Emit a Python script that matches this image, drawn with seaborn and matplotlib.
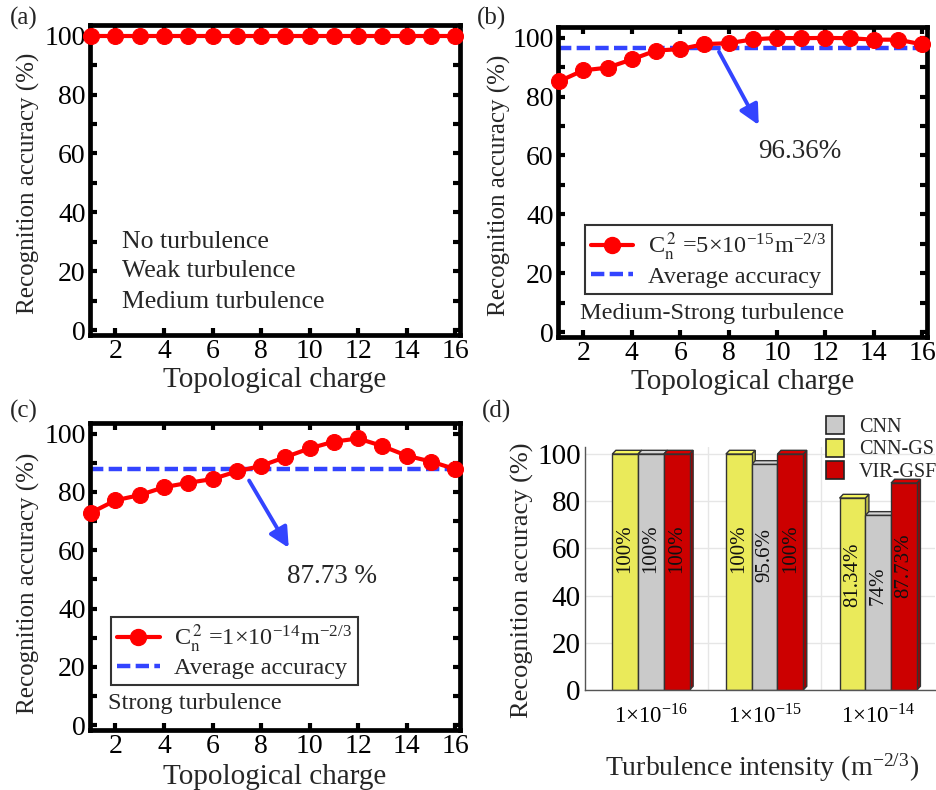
import numpy as np
import pandas as pd
import matplotlib
matplotlib.use("Agg")
import matplotlib.pyplot as plt
import seaborn as sns
from matplotlib.lines import Line2D
from matplotlib.patches import Patch, Polygon
from matplotlib.ticker import MultipleLocator

# ---------------- data ----------------
charges = list(range(1, 17))
acc_a = [100] * 16
acc_b = [85.2, 88.9, 89.8, 92.6, 95.6, 96.1, 97.8, 98.1, 99.4, 99.9, 99.8, 99.9, 99.8, 99.3, 99.3, 97.7]
avg_b = 96.36
acc_c = [72.9, 77.1, 78.9, 81.6, 83.1, 84.4, 87.0, 88.9, 91.9, 94.9, 97.2, 98.3, 95.7, 92.4, 90.4, 87.8]
avg_c = 87.73

intensities = [r'1×10$^{\mathregular{-16}}$', r'1×10$^{\mathregular{-15}}$', r'1×10$^{\mathregular{-14}}$']
methods = ['CNN-GS', 'CNN', 'VIR-GSF']
cnn_gs = [100, 100, 81.34]
cnn = [100, 95.6, 74]
vir_gsf = [100, 100, 87.73]
bar_labels = {'CNN-GS': ['100%', '100%', '81.34%'],
              'CNN': ['100%', '95.6%', '74%'],
              'VIR-GSF': ['100%', '100%', '87.73%']}

# ---------------- style ----------------
sns.set_theme(style="ticks")
plt.rcParams['font.family'] = ['Liberation Serif', 'DejaVu Serif']
plt.rcParams['mathtext.fontset'] = 'stix'
plt.rcParams['axes.unicode_minus'] = False

W, H = 937, 790
fig = plt.figure(figsize=(W / 100, H / 100), dpi=100)


def box(l, t, r, b):
    return [l / W, 1 - b / H, (r - l) / W, (b - t) / H]


RED = '#ff0000'
BLUE = '#3344ff'
TICK_FS = 20
LAB_FS = 21


def style_line_axes(ax):
    ax.set_xlim(0.95, 16.2)
    ax.set_ylim(-1.6, 103.6)
    ax.set_xticks(range(2, 17, 2))
    ax.set_yticks(range(0, 101, 20))
    ax.yaxis.set_minor_locator(MultipleLocator(10))
    ax.tick_params(which='both', direction='in', top=True, right=True,
                   labelsize=TICK_FS, width=3, color='black', labelcolor='black', pad=3)
    ax.tick_params(which='major', length=5)
    ax.tick_params(which='minor', length=5)
    for s in ax.spines.values():
        s.set_linewidth(3.4)
        s.set_color('black')
    ax.set_xlabel('')
    ax.set_ylabel('')
    ax.grid(False)


def line_panel(ax, y):
    df = pd.DataFrame({'charge': charges, 'acc': y})
    sns.lineplot(data=df, x='charge', y='acc', ax=ax, color=RED, lw=3.0,
                 marker='o', markersize=11.5, markeredgecolor=RED, clip_on=False,
                 zorder=3, legend=False)


ARROW = dict(arrowstyle='-|>,head_length=1.0,head_width=0.5', color=BLUE, lw=2.8)
LEG_KW = dict(loc='lower left', fontsize=17.5, frameon=True, fancybox=False, edgecolor='black',
              handlelength=1.75, borderpad=0.25, labelspacing=0.1, handletextpad=0.6,
              borderaxespad=0)

h1 = Line2D([], [], color=RED, lw=3, marker='o', markersize=11.5)
h2 = Line2D([], [], color=BLUE, lw=3.2, dashes=(3.0, 1.2))

# ---- (a) ----
axa = fig.add_axes(box(90, 25, 460, 335))
line_panel(axa, acc_a)
style_line_axes(axa)
for txt, yy in [('No turbulence', 0.30), ('Weak turbulence', 0.205), ('Medium turbulence', 0.108)]:
    axa.text(0.086, yy, txt, transform=axa.transAxes, fontsize=18.5, va='center')

# ---- (b) ----
axb = fig.add_axes(box(558, 27, 927, 337))
line_panel(axb, acc_b)
axb.axhline(avg_b, color=BLUE, lw=3.2, dashes=(3.0, 1.2), zorder=2)
style_line_axes(axb)
axb.annotate('', xy=(9.3, 69.5), xytext=(7.55, 96.0), arrowprops=ARROW)
axb.text(10.95, 61.5, '96.36%', fontsize=19.5, ha='center', va='center')
axb.text(0.059, 0.075, 'Medium-Strong turbulence', transform=axb.transAxes, fontsize=17.5, va='center')
legb = axb.legend([h1, h2], [r'C$_{\mathrm{n}}^{\,2}$ =5×10$^{\mathregular{-15}}$m$^{\mathregular{-2/3}}$', 'Average accuracy'],
                  bbox_to_anchor=(0.072, 0.14), **LEG_KW)
legb.get_frame().set_linewidth(1.5)

# ---- (c) ----
axc = fig.add_axes(box(90, 423, 460, 730))
line_panel(axc, acc_c)
axc.axhline(avg_c, color=BLUE, lw=3.2, dashes=(3.0, 1.2), zorder=2)
style_line_axes(axc)
axc.annotate('', xy=(9.2, 60.0), xytext=(7.45, 84.7), arrowprops=ARROW)
axc.text(10.93, 51.0, '87.73 %', fontsize=19.5, ha='center', va='center')
axc.text(0.05, 0.085, 'Strong turbulence', transform=axc.transAxes, fontsize=17.5, va='center')
legc = axc.legend([h1, h2], [r'C$_{\mathrm{n}}^{\,2}$ =1×10$^{\mathregular{-14}}$m$^{\mathregular{-2/3}}$', 'Average accuracy'],
                  bbox_to_anchor=(0.057, 0.145), **LEG_KW)
legc.get_frame().set_linewidth(1.5)

# axis labels for line panels
for (cx, cy) in [(275, 380), (743, 382), (275, 777)]:
    fig.text(cx / W, 1 - cy / H, 'Topological charge', fontsize=LAB_FS, ha='center', va='center')
for (cx, cy) in [(28, 183), (499, 185), (28, 583)]:
    fig.text(cx / W, 1 - cy / H, 'Recognition accuracy (%)', fontsize=18, ha='center', va='center',
             rotation=90)

# ---- (d) ----
COLORS = {'CNN-GS': '#eaea5a', 'CNN': '#cacaca', 'VIR-GSF': '#cc0000'}
axd = fig.add_axes(box(585, 447, 935, 690))
dfd = pd.DataFrame({
    'intensity': intensities * 3,
    'method': ['CNN-GS'] * 3 + ['CNN'] * 3 + ['VIR-GSF'] * 3,
    'acc': cnn_gs + cnn + vir_gsf,
})
sns.barplot(data=dfd, x='intensity', y='acc', hue='method', hue_order=methods,
            palette=COLORS, width=0.68, ax=axd, edgecolor='#333333', linewidth=1.0,
            legend=False, zorder=2, saturation=1)
axd.set_xlim(-0.58, 2.5)
axd.set_ylim(0, 103)
axd.set_yticks(range(0, 101, 20))
axd.set_xlabel('')
axd.set_ylabel('')
axd.tick_params(axis='y', labelsize=21, length=0, pad=3, labelcolor='black')
axd.tick_params(axis='x', labelsize=16.5, length=0, pad=10, labelcolor='black')
axd.set_xticks([0, 1, 2])
axd.set_xticklabels(intensities)
axd.set_xticks([0.5, 1.5], minor=True)
axd.tick_params(axis='x', which='minor', length=0)
axd.grid(axis='y', color='#e6e6e6', lw=1.0, zorder=0)
axd.grid(axis='x', which='minor', color='#e6e6e6', lw=1.0, zorder=0)
for side in ['top', 'right']:
    axd.spines[side].set_visible(False)
for side in ['left', 'bottom']:
    axd.spines[side].set_color('#555555')
    axd.spines[side].set_linewidth(1.0)

# pseudo-3D faces derived from each bar
for p in list(axd.patches):
    x0, w, hgt = p.get_x(), p.get_width(), p.get_height()
    if np.isnan(hgt):
        continue
    fc = np.array(p.get_facecolor()[:3])
    dx, dy = w * 0.14, 1.6
    side = Polygon([(x0 + w, 0), (x0 + w + dx, dy), (x0 + w + dx, hgt + dy), (x0 + w, hgt)],
                   closed=True, facecolor=fc * 0.8, edgecolor='#333333', lw=1.0, zorder=1.5)
    top = Polygon([(x0, hgt), (x0 + dx, hgt + dy), (x0 + w + dx, hgt + dy), (x0 + w, hgt)],
                  closed=True, facecolor=np.clip(fc * 1.05, 0, 1), edgecolor='#333333', lw=1.0, zorder=1.5)
    top.set_clip_on(False)
    side.set_clip_on(False)
    axd.add_patch(side)
    axd.add_patch(top)

# bar value labels
for i, m in enumerate(methods):
    cont = axd.containers[i]
    vals = [cnn_gs, cnn, vir_gsf][i]
    for j, rect in enumerate(cont):
        cx = rect.get_x() + rect.get_width() / 2
        axd.text(cx, vals[j] * 0.6, bar_labels[m][j], rotation=90, ha='center', va='center',
                 fontsize=15, color='#111111', zorder=4)

fig.text(522 / W, 1 - 580 / H, 'Recognition accuracy (%)', fontsize=19, ha='center', va='center', rotation=90)
fig.text(762 / W, 1 - 768 / H, r'Turbulence intensity (m$^{\mathregular{-2/3}}$)', fontsize=20,
         ha='center', va='center')

leg_handles = [Patch(facecolor=COLORS[m], edgecolor='#222222', lw=1.2) for m in ['CNN', 'CNN-GS', 'VIR-GSF']]
fig.legend(leg_handles, ['CNN', 'CNN-GS', 'VIR-GSF'], loc='upper left',
           bbox_to_anchor=(824 / W, 1 - 414 / H), frameon=False, fontsize=14.5,
           handlelength=0.9, handleheight=1.0, labelspacing=0.08, handletextpad=0.75,
           borderpad=0.1, borderaxespad=0)

# panel tags
for txt, (cx, cy) in zip(['(a)', '(b)', '(c)', '(d)'], [(24, 18), (492, 18), (24, 411), (497, 411)]):
    fig.text(cx / W, 1 - cy / H, txt, fontsize=18, ha='center', va='center')

fig.savefig('out.png', dpi=100)
